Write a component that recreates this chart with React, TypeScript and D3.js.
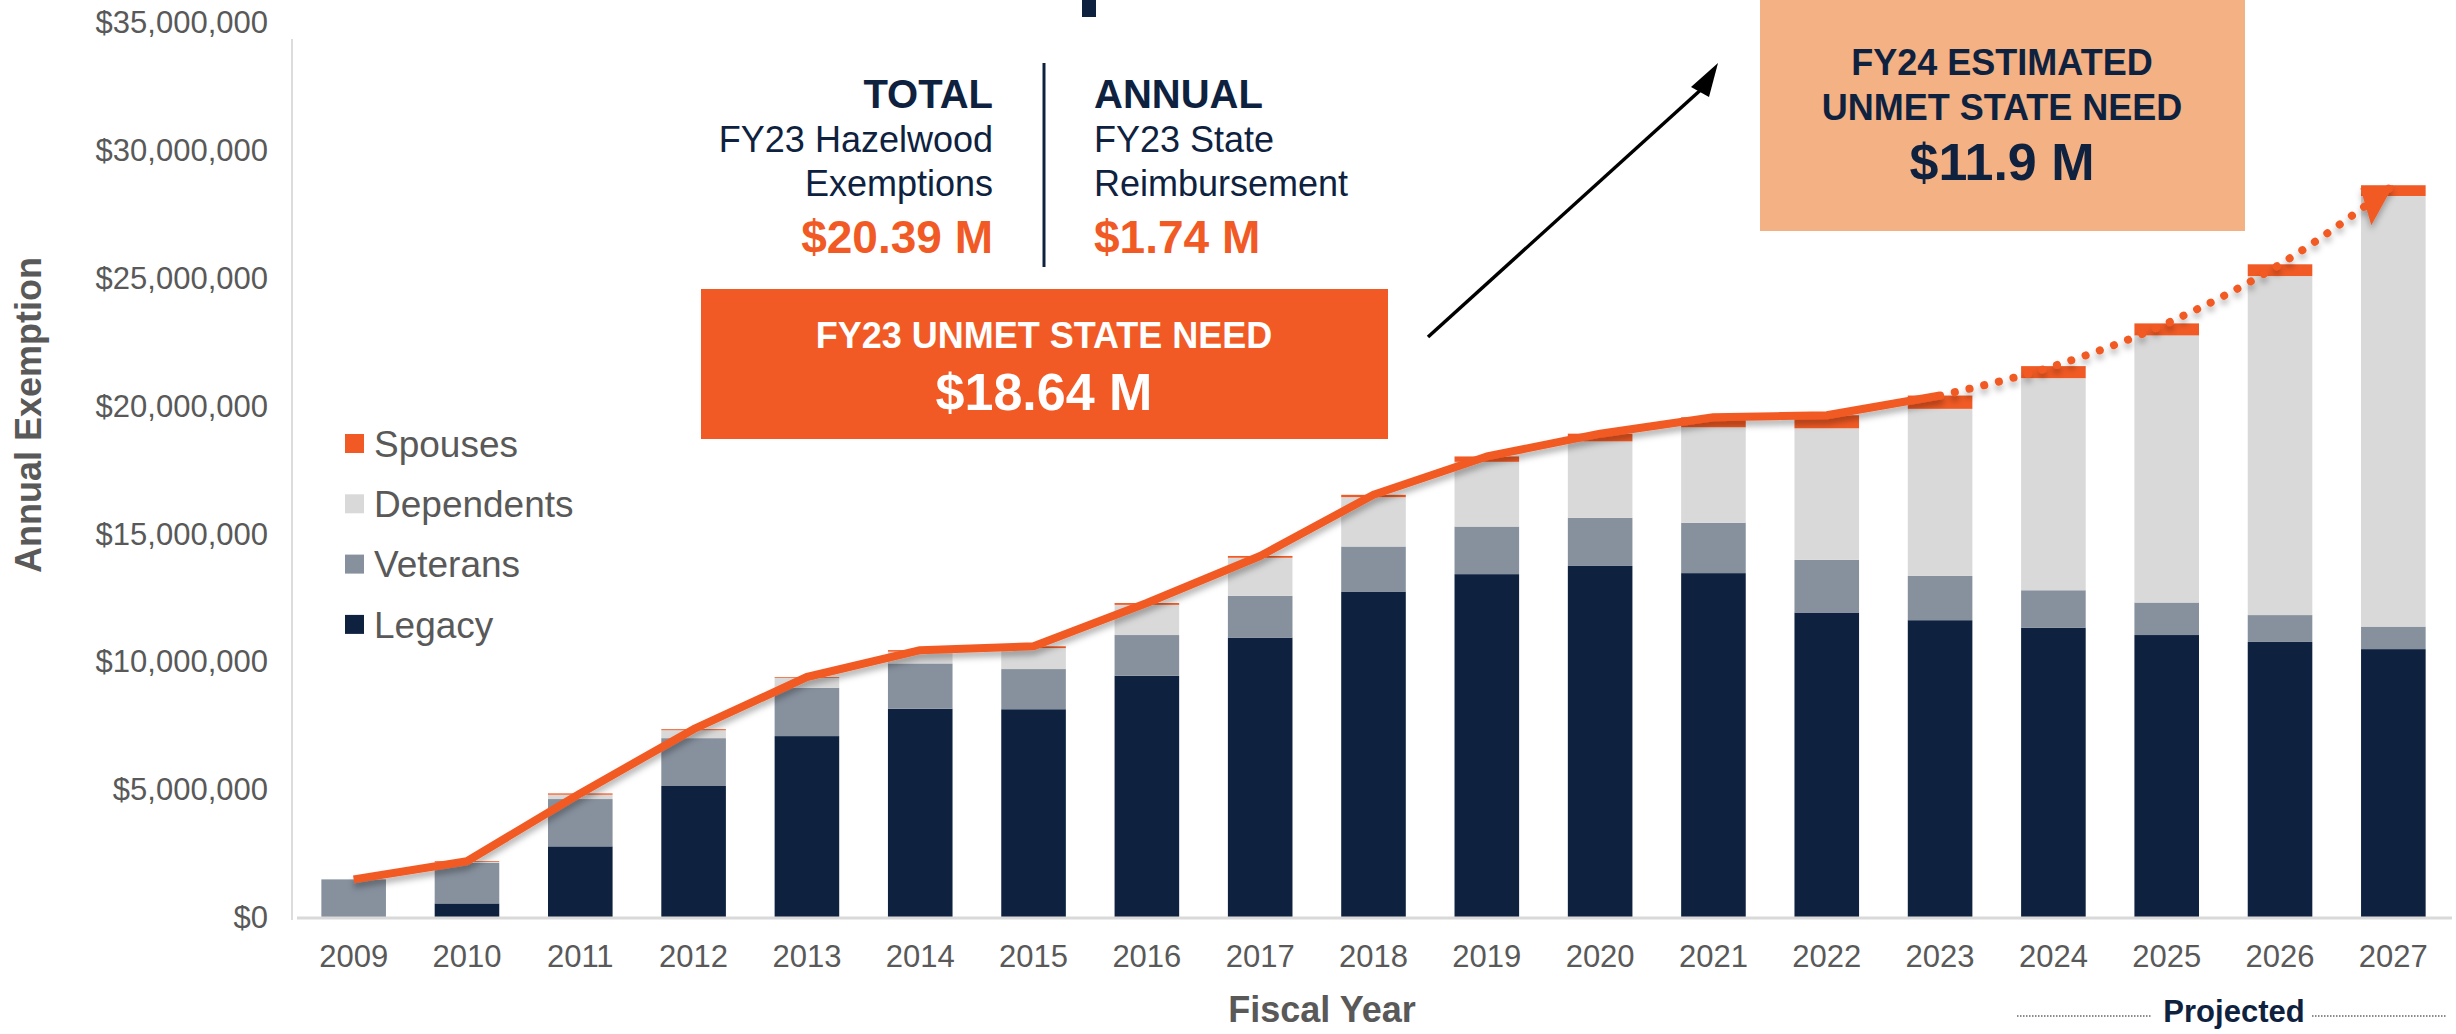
import React from "react";
import * as d3 from "d3";

// fiscal years and stacked series (millions of dollars)
const years = ["2009", "2010", "2011", "2012", "2013", "2014", "2015", "2016", "2017", "2018",
  "2019", "2020", "2021", "2022", "2023", "2024", "2025", "2026", "2027"];
const legacy = [0, 0.55, 2.78, 5.14, 7.09, 8.16, 8.14, 9.45, 10.94, 12.74,
  13.42, 13.74, 13.46, 11.92, 11.62, 11.33, 11.04, 10.77, 10.49];
const veterans = [1.49, 1.59, 1.85, 1.87, 1.89, 1.77, 1.57, 1.59, 1.63, 1.76,
  1.86, 1.88, 1.97, 2.06, 1.73, 1.46, 1.27, 1.05, 0.88];
const dependents = [0, 0.03, 0.17, 0.31, 0.39, 0.46, 0.82, 1.18, 1.49, 1.93,
  2.53, 2.99, 3.73, 5.14, 6.53, 8.29, 10.44, 13.25, 16.83];
const spouses = [0, 0.03, 0.05, 0.04, 0.03, 0.06, 0.07, 0.07, 0.07, 0.09,
  0.21, 0.3, 0.39, 0.51, 0.52, 0.47, 0.47, 0.46, 0.42];
const lastActual = "2023";

const seriesNames = ["Legacy", "Veterans", "Dependents", "Spouses"];
const seriesColors = ["#0e2240", "#87919e", "#d9d9d9", "#f15a24"];
const legendOrder = ["Spouses", "Dependents", "Veterans", "Legacy"];
const yTicks = [0, 5, 10, 15, 20, 25, 30, 35];

const font = "'Liberation Sans', Arial, Helvetica, sans-serif";
const navy = "#0e2240";
const orange = "#f15a24";
const grey = "#595959";

export default function App() {
  const width = 2456;
  const height = 1034;

  //scales
  const x = d3.scaleBand().domain(years).range([297, 2450]).paddingInner(0.43).paddingOuter(0.215);
  const y = d3.scaleLinear().domain([0, 35]).range([917.5, 22]);

  const rows = years.map((yr, i) => ({
    year: yr,
    Legacy: legacy[i],
    Veterans: veterans[i],
    Dependents: dependents[i],
    Spouses: spouses[i],
  }));
  const stacked = d3.stack<any>().keys(seriesNames)(rows);
  const totals = rows.map((r) => r.Legacy + r.Veterans + r.Dependents + r.Spouses);

  const pts = years.map((yr, i) => [x(yr)! + x.bandwidth() / 2, y(totals[i])] as [number, number]);
  const cut = years.indexOf(lastActual);
  const solidPath = d3.line()(pts.slice(0, cut + 1))!;
  const dottedPath = d3.line().curve(d3.curveMonotoneX)(pts.slice(cut))!;
  const end = pts[pts.length - 1];

  //bars
  const bars = stacked.map((s, si) =>
    s.map((d, i) => (
      <rect
        key={seriesNames[si] + years[i]}
        x={x(years[i])}
        y={y(d[1])}
        width={x.bandwidth()}
        height={Math.max(0, y(d[0]) - y(d[1]))}
        fill={seriesColors[si]}
      />
    ))
  );

  return (
    <div style={{ position: "absolute", left: 0, top: 0 }}>
      <svg width={width} height={height} style={{ display: "block" }} fontFamily={font}>
        <defs>
          <filter id="shadow" x="-5%" y="-20%" width="110%" height="140%">
            <feDropShadow dx="0" dy="5" stdDeviation="3" floodColor="#000" floodOpacity="0.3" />
          </filter>
        </defs>

        {/* y axis */}
        <line x1={292} x2={292} y1={39} y2={920} stroke="#d0d0d0" strokeWidth={1.5} />
        {yTicks.map((t) => (
          <text key={t} x={268} y={y(t)} dy="0.35em" textAnchor="end" fontSize={31} fill={grey}>
            {"$" + d3.format(",")(t * 1000000)}
          </text>
        ))}
        <text
          transform="translate(41,415) rotate(-90)"
          textAnchor="middle"
          fontSize={36}
          fontWeight="bold"
          fill={grey}
        >
          Annual Exemption
        </text>

        {bars}

        {/* baseline */}
        <line x1={297} x2={2452} y1={918} y2={918} stroke="#d9d9d9" strokeWidth={3} />

        {/* x labels */}
        {years.map((yr) => (
          <text key={yr} x={x(yr)! + x.bandwidth() / 2} y={967} textAnchor="middle" fontSize={31} fill={grey}>
            {yr}
          </text>
        ))}
        <text x={1322} y={1022} textAnchor="middle" fontSize={36} fontWeight="bold" fill={grey}>
          Fiscal Year
        </text>
        <line x1={2017} x2={2152} y1={1016} y2={1016} stroke="#666" strokeWidth={1.5} strokeDasharray="1.5 1.5" />
        <line x1={2312} x2={2446} y1={1016} y2={1016} stroke="#666" strokeWidth={1.5} strokeDasharray="1.5 1.5" />
        <text x={2234} y={1022} textAnchor="middle" fontSize={31} fontWeight="bold" fill={navy}>
          Projected
        </text>

        {/* total line */}
        <g filter="url(#shadow)">
          <path d={solidPath} fill="none" stroke={orange} strokeWidth={8} strokeLinejoin="round" />
          <path
            d={dottedPath}
            fill="none"
            stroke={orange}
            strokeWidth={8}
            strokeLinecap="round"
            strokeDasharray="0.1 15"
          />
          <polygon
            points={`${end[0] - 33},${end[1] + 3} ${end[0]},${end[1]} ${end[0] - 22},${end[1] + 40}`}
            fill={orange}
          />
        </g>

        {/* legend */}
        {legendOrder.map((name, i) => (
          <g key={name} transform={`translate(345,${434 + i * 60.3})`}>
            <rect width={19} height={19} fill={seriesColors[seriesNames.indexOf(name)]} />
            <text x={29} y={9.5} dy="0.36em" fontSize={37} fill={grey}>
              {name}
            </text>
          </g>
        ))}

        {/* top cut-off mark */}
        <rect x={1082} y={0} width={14} height={17} fill={navy} />

        {/* total / annual callout */}
        <g fill={navy}>
          <text x={993} y={108} textAnchor="end" fontSize={40} fontWeight="bold">TOTAL</text>
          <text x={993} y={152} textAnchor="end" fontSize={36}>FY23 Hazelwood</text>
          <text x={993} y={196} textAnchor="end" fontSize={36}>Exemptions</text>
          <text x={993} y={253} textAnchor="end" fontSize={46} fontWeight="bold" fill={orange}>$20.39 M</text>
          <line x1={1044} x2={1044} y1={63} y2={267} stroke={navy} strokeWidth={3} />
          <text x={1094} y={108} fontSize={40} fontWeight="bold">ANNUAL</text>
          <text x={1094} y={152} fontSize={36}>FY23 State</text>
          <text x={1094} y={196} fontSize={36}>Reimbursement</text>
          <text x={1094} y={253} fontSize={46} fontWeight="bold" fill={orange}>$1.74 M</text>
        </g>

        {/* FY23 unmet box */}
        <rect x={701} y={289} width={687} height={150} fill={orange} />
        <text x={1044} y={348} textAnchor="middle" fontSize={36} fontWeight="bold" fill="#fff">
          FY23 UNMET STATE NEED
        </text>
        <text x={1044} y={410} textAnchor="middle" fontSize={52} fontWeight="bold" fill="#fff">
          $18.64 M
        </text>

        {/* arrow */}
        <line x1={1428} y1={337} x2={1705} y2={86} stroke="#000" strokeWidth={3.5} />
        <polygon points="1718,63 1691,87 1709,97" fill="#000" />

        {/* FY24 estimate box */}
        <rect x={1760} y={0} width={485} height={231} fill="#f4b183" />
        <text x={2002} y={75} textAnchor="middle" fontSize={36} fontWeight="bold" fill={navy}>
          FY24 ESTIMATED
        </text>
        <text x={2002} y={120} textAnchor="middle" fontSize={36} fontWeight="bold" fill={navy}>
          UNMET STATE NEED
        </text>
        <text x={2002} y={180} textAnchor="middle" fontSize={52} fontWeight="bold" fill={navy}>
          $11.9 M
        </text>
      </svg>
    </div>
  );
}
